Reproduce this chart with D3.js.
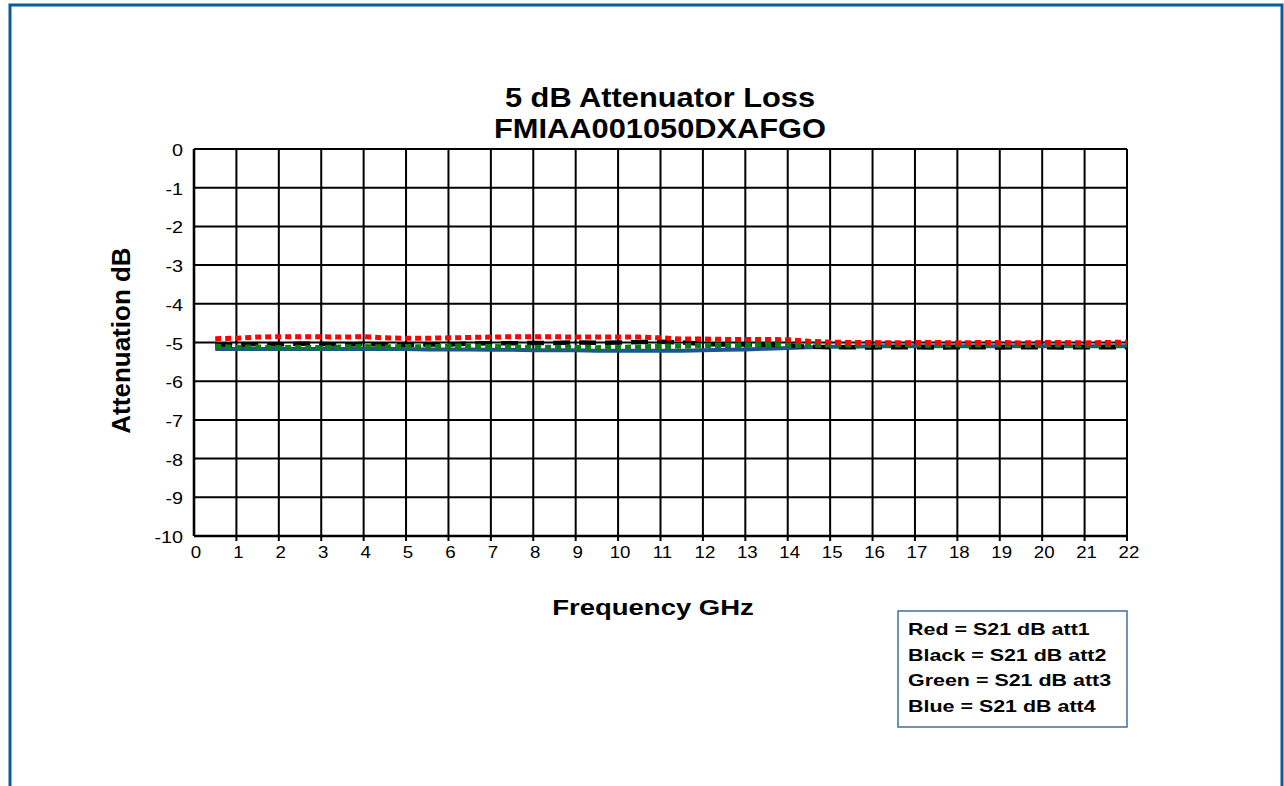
<!DOCTYPE html>
<html>
<head>
<meta charset="utf-8">
<script src="https://cdn.jsdelivr.net/npm/d3@7"></script>
<style>
  html, body { margin: 0; padding: 0; background: #fff; }
  svg text { font-family: Arial, "Liberation Sans", sans-serif; fill: #000; }
</style>
</head>
<body>
<div id="chart"></div>
<script>
var titleLines = ['5 dB Attenuator Loss', 'FMIAA001050DXAFGO'];
var xTitle = 'Frequency GHz';
var yTitle = 'Attenuation dB';
var legendLines = ['Red = S21 dB att1', 'Black = S21 dB att2', 'Green = S21 dB att3', 'Blue = S21 dB att4'];

var xTicks = [0,1,2,3,4,5,6,7,8,9,10,11,12,13,14,15,16,17,18,19,20,21,22];
var yTicks = [0,-1,-2,-3,-4,-5,-6,-7,-8,-9,-10];

var freqGHz = [0.5,1,1.5,2,2.5,3,3.5,4,4.5,5,5.5,6,6.5,7,7.5,8,8.5,9,9.5,10,10.5,11,
               11.5,12,12.5,13,13.5,14,14.5,15,15.5,16,16.5,17,17.5,18,18.5,19,19.5,20,20.5,21,21.5,22];

var att1 = [-4.90,-4.89,-4.86,-4.85,-4.85,-4.85,-4.86,-4.85,-4.88,-4.89,-4.89,-4.88,-4.87,-4.86,-4.85,-4.85,-4.85,-4.86,-4.86,-4.86,-4.86,-4.88,
            -4.91,-4.91,-4.92,-4.92,-4.92,-4.93,-4.97,-4.99,-5.00,-5.00,-5.01,-5.00,-5.00,-5.01,-5.00,-5.00,-5.01,-5.00,-5.00,-5.01,-5.00,-4.99];
var att2 = [-5.05,-5.06,-5.04,-5.05,-5.03,-5.04,-5.06,-5.04,-5.05,-5.06,-5.05,-5.05,-5.03,-5.02,-5.02,-5.01,-5.01,-5.00,-5.01,-5.00,-4.99,-4.98,
            -5.00,-5.04,-5.05,-5.05,-5.06,-5.08,-5.11,-5.12,-5.12,-5.13,-5.12,-5.12,-5.13,-5.12,-5.12,-5.13,-5.12,-5.12,-5.13,-5.12,-5.12,-5.12];
var att3 = [-5.10,-5.13,-5.12,-5.14,-5.13,-5.14,-5.12,-5.11,-5.12,-5.11,-5.12,-5.10,-5.10,-5.11,-5.12,-5.13,-5.13,-5.13,-5.14,-5.13,-5.12,-5.10,
            -5.09,-5.08,-5.07,-5.07,-5.06,-5.07,-5.07,-5.06,-5.06,-5.07,-5.06,-5.06,-5.07,-5.06,-5.06,-5.06,-5.07,-5.06,-5.06,-5.07,-5.06,-5.06];
var att4 = [-5.17,-5.17,-5.17,-5.17,-5.17,-5.17,-5.17,-5.17,-5.17,-5.17,-5.18,-5.18,-5.18,-5.19,-5.19,-5.20,-5.20,-5.20,-5.21,-5.21,-5.21,-5.21,
            -5.21,-5.20,-5.19,-5.18,-5.16,-5.14,-5.12,-5.11,-5.11,-5.10,-5.10,-5.10,-5.10,-5.10,-5.10,-5.10,-5.10,-5.10,-5.10,-5.10,-5.10,-5.10];

(function() {

  var width = 1284, height = 786;

  var svg = d3.select('#chart')
              .append('svg')
              .attr('width', width)
              .attr('height', height);

  // outer frame, bottom edge runs off the page
  svg.append('rect')
     .attr('x', 10).attr('y', 5)
     .attr('width', 1272).attr('height', 800)
     .attr('fill', 'none')
     .attr('stroke', '#0b5a99')
     .attr('stroke-width', 3);

  var left = 194, right = 1127, top = 149, bottom = 536;

  var x = d3.scaleLinear().domain([0, 22]).range([left, right]);
  var y = d3.scaleLinear().domain([-10, 0]).range([bottom, top]);

  function stretchText(g, str, tx, ty, size, sx, anchor) {
    return g.append('text')
            .attr('transform', 'translate(' + tx + ',' + ty + ') scale(' + sx + ',1)')
            .attr('text-anchor', anchor || 'middle')
            .attr('font-size', size)
            .text(str);
  }

  // titles
  titleLines.forEach(function(t, i) {
    stretchText(svg, t, 660, 107 + i * 31, 28, 1.1).attr('font-weight', 'bold');
  });
  stretchText(svg, xTitle, 653, 615, 22, 1.25).attr('font-weight', 'bold');
  svg.append('text')
     .attr('transform', 'translate(130,' + ((top + bottom) / 2 - 2) + ') rotate(-90)')
     .attr('text-anchor', 'middle')
     .attr('font-size', 26)
     .attr('font-weight', 'bold')
     .text(yTitle);

  // grid
  var grid = svg.append('g');
  grid.selectAll('line.v')
      .data(xTicks)
      .enter()
      .append('line')
      .attr('x1', function(d) { return x(d); })
      .attr('x2', function(d) { return x(d); })
      .attr('y1', top)
      .attr('y2', function(d) { return d === 0 ? bottom : bottom + 5; })
      .attr('stroke', '#000')
      .attr('stroke-width', function(d) { return d === 0 ? 2.6 : 2; });
  grid.selectAll('line.h')
      .data(yTicks)
      .enter()
      .append('line')
      .attr('x1', left)
      .attr('x2', right)
      .attr('y1', function(d) { return y(d); })
      .attr('y2', function(d) { return y(d); })
      .attr('stroke', '#000')
      .attr('stroke-width', function(d) { return d === -10 ? 2.6 : 2; });

  // tick labels
  var labels = svg.append('g');
  xTicks.forEach(function(d) {
    stretchText(labels, d, x(d) + 2, bottom + 22, 17, 1.1);
  });
  yTicks.forEach(function(d) {
    stretchText(labels, d, left - 11, y(d) + 7, 16.5, 1.2, 'end');
  });

  // series
  var line = d3.line()
    .x(function(d) { return x(d[0]); })
    .y(function(d) { return y(d[1]); });

  function pairs(vals) {
    return freqGHz.map(function(f, i) { return [f, vals[i]]; });
  }

  var series = [
    { vals: att4, color: '#1d5394', width: 4, dash: null },
    { vals: att2, color: '#000000', width: 4.5, dash: '17,9' },
    { vals: att3, color: '#0a7d14', width: 5.5, dash: '6,4' },
    { vals: att1, color: '#ff0000', width: 5, dash: '6,4' }
  ];

  svg.append('g')
     .selectAll('path')
     .data(series)
     .enter()
     .append('path')
     .attr('fill', 'none')
     .attr('stroke', function(d) { return d.color; })
     .attr('stroke-width', function(d) { return d.width; })
     .attr('stroke-dasharray', function(d) { return d.dash; })
     .attr('d', function(d) { return line(pairs(d.vals)); });

  // legend
  var legend = svg.append('g');
  legend.append('rect')
        .attr('x', 898).attr('y', 611)
        .attr('width', 229).attr('height', 116)
        .attr('fill', '#fff')
        .attr('stroke', '#3f6e9e')
        .attr('stroke-width', 1.5);
  legendLines.forEach(function(t, i) {
    stretchText(legend, t, 908, 635 + i * 25.5, 16.5, 1.3, 'start').attr('font-weight', 'bold');
  });

})();
</script>
</body>
</html>
